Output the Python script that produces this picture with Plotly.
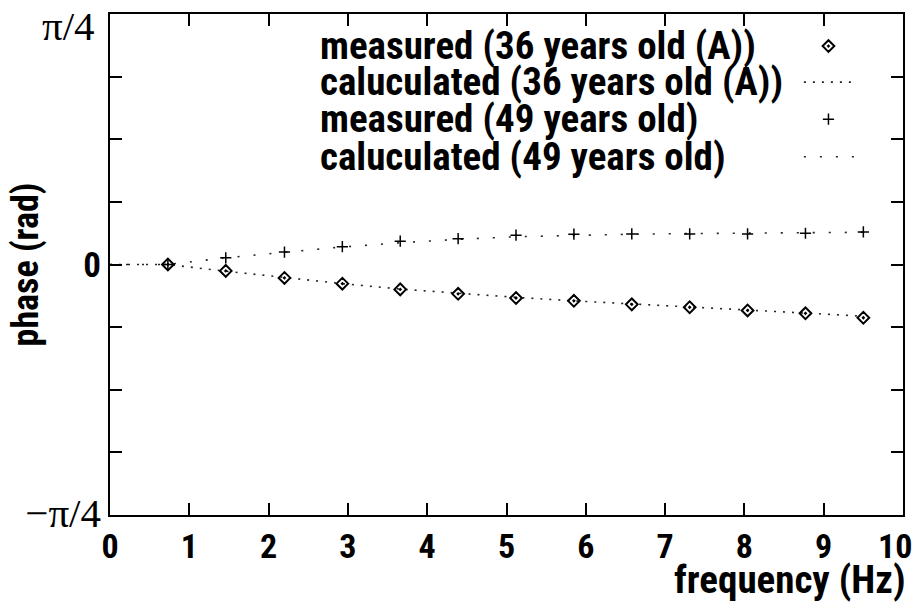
import math
import plotly.graph_objects as go

# Measured frequencies (Hz)
freq = [0.73, 1.46, 2.20, 2.93, 3.66, 4.39, 5.12, 5.85, 6.58, 7.31, 8.04, 8.77, 9.50]

# Phase (rad), 36 years old (A)
phase36_meas = [0.000, -0.020, -0.042, -0.060, -0.078, -0.092, -0.105, -0.114,
                -0.125, -0.134, -0.144, -0.153, -0.167]
# Phase (rad), 49 years old
phase49_meas = [0.000, 0.021, 0.039, 0.056, 0.073, 0.081, 0.092, 0.095,
                0.096, 0.096, 0.096, 0.098, 0.102]

# Model curves, evaluated from 0 Hz
freq_calc = [0.0] + freq
phase36_calc = [0.000, 0.000, -0.021, -0.041, -0.060, -0.077, -0.091, -0.103,
                -0.114, -0.124, -0.134, -0.143, -0.152, -0.162]
phase49_calc = [0.000, 0.000, 0.021, 0.039, 0.055, 0.068, 0.079, 0.087,
                0.092, 0.095, 0.097, 0.099, 0.100, 0.101]

legend_labels = ["measured (36 years old (A))", "caluculated (36 years old (A))",
                 "measured (49 years old)", "caluculated (49 years old)"]

x_ticks = list(range(0, 11))
x_tick_text = [str(v) for v in x_ticks]
y_ticks = [k * math.pi / 16 for k in range(-4, 5)]
y_tick_text = {-4: "\u2212\u03c0/4", 0: "0"}
y_top_label = "\u03c0/4"

SANS = "Roboto Condensed, Open Sans Condensed, DejaVu Sans Condensed, sans-serif"
SERIF = "Liberation Serif, DejaVu Serif, serif"


def sans(size):
    return dict(family=SANS, size=size, color="black", weight="bold")


def narrow(text):
    return f'<span style="font-stretch:condensed">{text}</span>'


def serif(text):
    return f'<span style="font-family:{SERIF};font-weight:normal;font-size:41px">{text}</span>'


dash36 = "2px,7px"
dash49 = "2px,14px"
diamond = dict(symbol="diamond-open-dot", size=9, color="black",
               line=dict(width=2, color="black"))
plus = dict(symbol="cross-thin", size=8, line=dict(width=1.5, color="black"))

fig = go.Figure()

fig.add_trace(go.Scatter(x=freq_calc, y=phase36_calc, mode="lines",
                         line=dict(color="#222", width=1.6, dash=dash36),
                         hoverinfo="skip", showlegend=False))
fig.add_trace(go.Scatter(x=freq_calc, y=phase49_calc, mode="lines",
                         line=dict(color="#222", width=1.6, dash=dash49),
                         hoverinfo="skip", showlegend=False))
fig.add_trace(go.Scatter(x=freq, y=phase36_meas, mode="markers", marker=diamond,
                         showlegend=False))
fig.add_trace(go.Scatter(x=freq, y=phase49_meas, mode="markers", marker=plus,
                         showlegend=False))

# Key: text on the left, sample on the right (overlay axes in 0..1 units)
key_rows = [0.936, 0.864, 0.790, 0.715]
key_x0, key_x1, key_xm = 0.875, 0.939, 0.906
fig.add_trace(go.Scatter(x=[key_xm], y=[key_rows[0]], xaxis="x2", yaxis="y2",
                         mode="markers", marker=diamond, hoverinfo="skip", showlegend=False))
fig.add_trace(go.Scatter(x=[key_x0, key_x1], y=[key_rows[1]] * 2, xaxis="x2", yaxis="y2",
                         mode="lines", line=dict(color="#222", width=1.6, dash=dash36),
                         hoverinfo="skip", showlegend=False))
fig.add_trace(go.Scatter(x=[key_xm], y=[key_rows[2]], xaxis="x2", yaxis="y2",
                         mode="markers", marker=plus, hoverinfo="skip", showlegend=False))
fig.add_trace(go.Scatter(x=[key_x0, key_x1], y=[key_rows[3]] * 2, xaxis="x2", yaxis="y2",
                         mode="lines", line=dict(color="#222", width=1.6, dash=dash49),
                         hoverinfo="skip", showlegend=False))

for label, yy in zip(legend_labels, key_rows):
    fig.add_annotation(x=0.2623, y=yy, xref="paper", yref="paper", text=narrow(label),
                       showarrow=False, xanchor="left", yanchor="middle", font=sans(39))

tick_text = []
for k in range(-4, 5):
    t = y_tick_text.get(k, "")
    if t and k != 0:
        t = serif(t)
    elif t:
        t = narrow(t)
    tick_text.append(t)

# last x label nudged left so it stays inside the page
x_text = [narrow(t) for t in x_tick_text[:-1]] + [narrow(x_tick_text[-1] + "\u00a0\u00a0")]

axis_common = dict(showline=True, linecolor="black", linewidth=2, mirror="ticks",
                   ticks="inside", ticklen=12, tickwidth=1.5, tickcolor="black",
                   showgrid=False, zeroline=False, ticklabeloverflow="allow",
                   automargin=False)
eps = 1e-9

fig.update_layout(
    width=919, height=603,
    margin=dict(l=110, r=16, t=14, b=88),
    paper_bgcolor="white", plot_bgcolor="white",
    font=dict(family=SANS, color="black"),
    xaxis=dict(range=[0 - eps, 10 + eps], tickvals=x_ticks,
               ticktext=x_text, tickfont=sans(34), **axis_common),
    yaxis=dict(range=[-math.pi / 4 - eps, math.pi / 4 + eps], tickvals=y_ticks,
               ticktext=tick_text, tickfont=sans(35), **axis_common),
    xaxis2=dict(overlaying="x", range=[0, 1], visible=False),
    yaxis2=dict(overlaying="y", range=[0, 1], visible=False),
)

# top y label, set just below the upper edge of the frame
fig.add_annotation(x=-0.016, y=1.0, xref="paper", yref="paper", yshift=-12,
                   text=serif(y_top_label), showarrow=False,
                   xanchor="right", yanchor="middle", font=sans(35))

fig.add_annotation(x=1.006, y=-0.13, xref="paper", yref="paper",
                   text=narrow("frequency (Hz)"),
                   showarrow=False, xanchor="right", yanchor="middle", font=sans(39))
fig.add_annotation(x=-0.106, y=0.5, xref="paper", yref="paper", text=narrow("phase (rad)"),
                   showarrow=False, textangle=-90, xanchor="center", yanchor="middle",
                   font=sans(36))

fig.write_html("out.html")
